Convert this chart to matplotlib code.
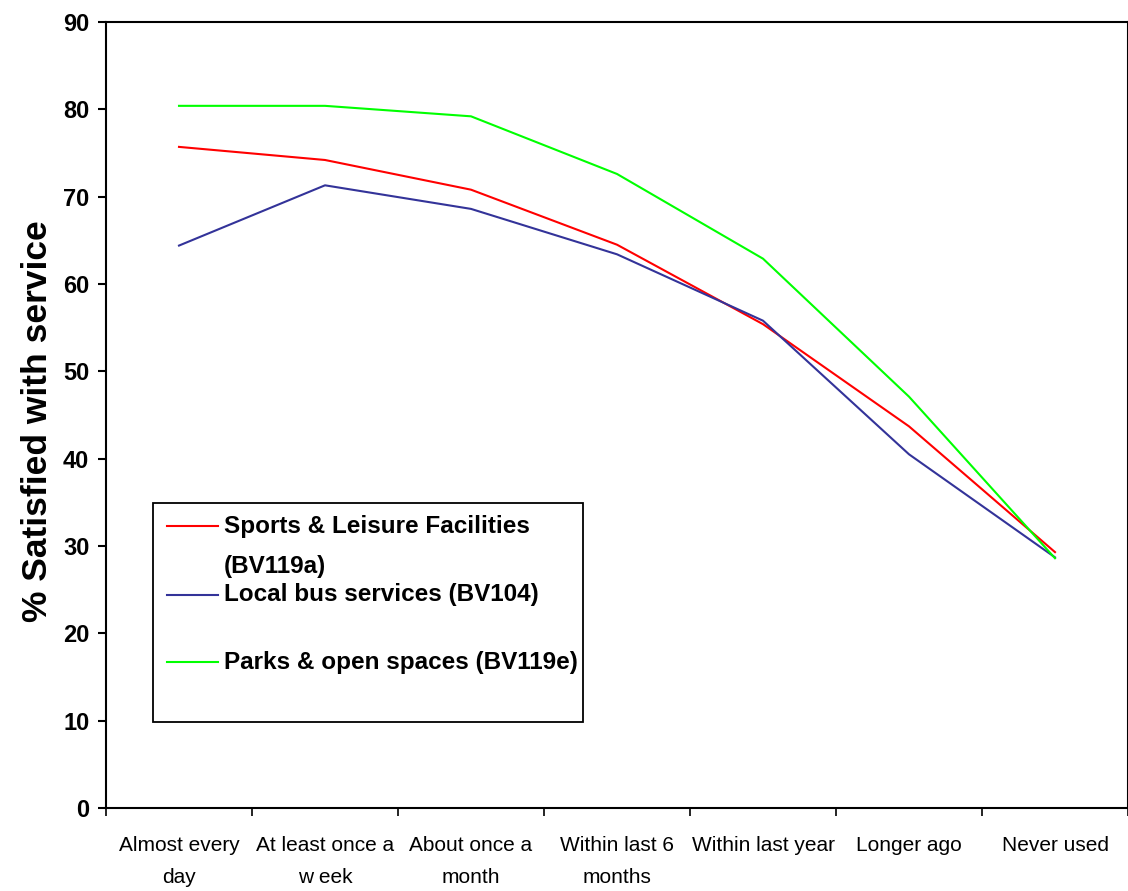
import matplotlib
matplotlib.use("Agg")
import matplotlib.pyplot as plt
from matplotlib.lines import Line2D
from matplotlib.patches import Rectangle

# data
categories = ["Almost every\nday", "At least once a\nw eek", "About once a\nmonth",
              "Within last 6\nmonths", "Within last year", "Longer ago", "Never used"]
sports = [75.7, 74.2, 70.8, 64.5, 55.4, 43.7, 29.3]
bus = [64.4, 71.3, 68.6, 63.4, 55.8, 40.5, 28.7]
parks = [80.4, 80.4, 79.2, 72.6, 62.9, 47.1, 28.6]

series_names = ["Sports & Leisure Facilities\n(BV119a)", "Local bus services (BV104)",
                "Parks & open spaces (BV119e)"]
colors = ["#FF0000", "#333399", "#00FF00"]

fig = plt.figure(figsize=(11.28, 8.91), dpi=100)
ax = fig.add_axes([106/1128, 1 - 808/891, 1 - 106/1128, (808 - 22)/891])

x = list(range(len(categories)))
for vals, c in zip([sports, bus, parks], colors):
    ax.plot(x, vals, color=c, linewidth=1.5)

ax.set_xlim(-0.5, len(categories) - 0.5)
ax.set_ylim(0, 90)
ax.set_yticks(range(0, 91, 10))
ax.set_yticklabels([str(v) for v in range(0, 91, 10)],
                   fontfamily="Liberation Sans", fontweight="bold", fontsize=17)
ax.tick_params(axis="y", direction="out", length=6, width=1.5, pad=6)

# category labels at centres, tick marks between
ax.set_xticks(x)
ax.set_xticklabels(categories, fontfamily="Liberation Sans", fontsize=15,
                   linespacing=1.85, va="top")
ax.tick_params(axis="x", which="major", length=0, pad=20)
ax.set_xticks([i - 0.5 for i in range(len(categories) + 1)], minor=True)
ax.tick_params(axis="x", which="minor", direction="out", length=6, width=1.2)

for s in ax.spines.values():
    s.set_linewidth(1.5)

ax.set_ylabel("% Satisfied with service", fontfamily="Liberation Sans",
              fontweight="bold", fontsize=25.5)
ax.yaxis.set_label_coords(-0.051, 0.4924)

# legend box drawn like the Excel one
def fx(px):
    return (px - 106) / 1022

def fy(py):
    return (808 - py) / 786

ax.add_patch(Rectangle((fx(153), fy(722)), fx(583) - fx(153), fy(503) - fy(722),
                       transform=ax.transAxes, facecolor="white", edgecolor="black",
                       linewidth=1.3, zorder=5))
rows = [526, 595, 662]
for name, c, py in zip(series_names, colors, rows):
    ax.add_line(Line2D([fx(167), fx(218)], [fy(py), fy(py)], transform=ax.transAxes,
                       color=c, linewidth=1.5, zorder=6))
    for k, line in enumerate(name.split("\n")):
        ax.text(fx(224), fy(py + 41 * k), line, transform=ax.transAxes, va="center",
                ha="left", fontfamily="Liberation Sans", fontweight="bold",
                fontsize=17.5, zorder=6)

fig.savefig("out.png", dpi=100)
